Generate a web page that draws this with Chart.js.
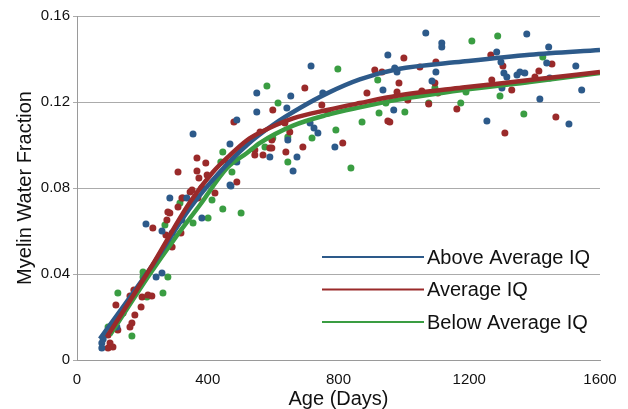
<!DOCTYPE html>
<html lang="en">
<head>
<meta charset="UTF-8">
<title>Myelin Water Fraction vs Age</title>
<script src="https://cdn.jsdelivr.net/npm/chart.js"></script>
<style>
  html, body { margin: 0; padding: 0; background: #fff; }
  #wrap { width: 628px; height: 409px; }
</style>
</head>
<body>
<div id="wrap"><canvas id="grafico" width="628" height="409"></canvas></div>
<script>
// groups
const groupLabels = ['Above Average IQ', 'Average IQ', 'Below Average IQ'];

// scatter data (age in days, myelin water fraction)
const aboveAge = [284, 211, 260, 291, 321, 242, 260, 147, 131, 80, 76, 76, 122, 336, 382, 468, 550, 550, 355, 489,
  468, 489, 471, 590, 716, 654, 642, 752, 713, 725, 737, 789, 661, 673, 936, 951, 1067, 1116, 1116, 972,
  979, 1098, 1086, 969, 1254, 1284, 1297, 1306, 1315, 1346, 1355, 1370, 1300, 1376, 1443, 1437, 1446, 1416, 1526, 1544,
  1505, 645];
const aboveMwf = [0.0753, 0.0633, 0.0600, 0.0591, 0.0651, 0.0386, 0.0405, 0.0242, 0.0209, 0.0098, 0.0079, 0.0056, 0.0153, 0.0753, 0.0660, 0.0814, 0.1242, 0.1153, 0.1051, 0.1116,
  0.1005, 0.0921, 0.0809, 0.0944, 0.1367, 0.1228, 0.1172, 0.1242, 0.1102, 0.1079, 0.1056, 0.0991, 0.0879, 0.0944, 0.1256, 0.1419, 0.1521, 0.1474, 0.1456, 0.1358,
  0.1340, 0.1340, 0.1298, 0.1163, 0.1112, 0.1433, 0.1386, 0.1335, 0.1316, 0.1326, 0.1340, 0.1335, 0.1265, 0.1516, 0.1456, 0.1381, 0.1312, 0.1214, 0.1367, 0.1256,
  0.1098, 0.1023];

const averageAge = [321, 284, 275, 232, 272, 291, 174, 162, 199, 217, 229, 119, 196, 141, 177, 168, 162, 125, 95, 101,
  110, 95, 309, 346, 422, 489, 318, 480, 367, 394, 309, 367, 373, 398, 352, 382, 324, 370, 462, 544,
  569, 590, 599, 560, 544, 278, 697, 749, 768, 636, 651, 596, 596, 639, 691, 813, 887, 911, 951, 1000,
  1049, 1098, 985, 979, 1055, 1012, 1095, 1104, 1076, 957, 1162, 1266, 1303, 1269, 1330, 1401, 1413, 1453, 1309, 1465,
  933];
const averageMwf = [0.0753, 0.0684, 0.0651, 0.0614, 0.0581, 0.0526, 0.0326, 0.0298, 0.0293, 0.0302, 0.0298, 0.0256, 0.0247, 0.0219, 0.0209, 0.0172, 0.0153, 0.0140, 0.0116, 0.0079,
  0.0060, 0.0056, 0.0712, 0.0781, 0.0777, 0.0828, 0.0591, 0.1107, 0.0940, 0.0916, 0.0874, 0.0879, 0.0847, 0.0860, 0.0791, 0.0800, 0.0753, 0.0753, 0.0916, 0.0977,
  0.0953, 0.0986, 0.1163, 0.1060, 0.0953, 0.0688, 0.1265, 0.1186, 0.1149, 0.1102, 0.1060, 0.1023, 0.0986, 0.0967, 0.0991, 0.1009, 0.1242, 0.1349, 0.1112, 0.1405,
  0.1363, 0.1386, 0.1288, 0.1247, 0.1251, 0.1209, 0.1288, 0.1242, 0.1191, 0.1107, 0.1167, 0.1419, 0.1367, 0.1302, 0.1256, 0.1316, 0.1344, 0.1377, 0.1056, 0.1130,
  0.1340];

const belowAge = [315, 269, 202, 202, 278, 125, 263, 95, 168, 214, 413, 355, 401, 446, 502, 581, 615, 446, 440, 474,
  599, 798, 645, 719, 792, 872, 924, 838, 645, 575, 920, 1208, 1287, 1425, 1190, 1174, 1294, 1367, 1003, 1076,
  945, 1095];
const belowMwf = [0.0730, 0.0628, 0.0409, 0.0386, 0.0386, 0.0312, 0.0312, 0.0153, 0.0112, 0.0293, 0.0744, 0.0637, 0.0660, 0.0702, 0.0684, 0.1274, 0.1195, 0.0967, 0.0921, 0.0874,
  0.1033, 0.1353, 0.1037, 0.1033, 0.1070, 0.1107, 0.1149, 0.0893, 0.0921, 0.0991, 0.1302, 0.1484, 0.1507, 0.1409, 0.1247, 0.1195, 0.1228, 0.1144, 0.1153, 0.1195,
  0.1195, 0.1265];

// fitted curves
const aboveFitAge = [70, 223, 346, 437, 520, 599, 682, 765, 865, 979, 1180, 1385, 1600];
const aboveFitMwf = [0.0098, 0.0423, 0.0707, 0.0874, 0.1000, 0.1093, 0.1172, 0.1240, 0.1305, 0.1352, 0.1388, 0.1420, 0.1442];
const averageFitAge = [95, 223, 346, 416, 468, 520, 560, 661, 765, 865, 979, 1180, 1385, 1600];
const averageFitMwf = [0.0116, 0.0423, 0.0735, 0.0874, 0.0953, 0.1022, 0.1058, 0.1124, 0.1163, 0.1195, 0.1229, 0.1267, 0.1302, 0.1340];
const belowFitAge = [101, 223, 300, 376, 459, 520, 560, 661, 765, 865, 979, 1180, 1385, 1600];
const belowFitMwf = [0.0116, 0.0400, 0.0567, 0.0721, 0.0893, 0.0963, 0.1010, 0.1090, 0.1140, 0.1175, 0.1210, 0.1256, 0.1293, 0.1335];

// axis ticks
const xTicks = [0, 400, 800, 1200, 1600];
const yTicks = ['0', '0.04', '0.08', '0.12', '0.16'];

const corAzul = '#2d5a8a';
const corVermelha = '#9a2a2a';
const corVerde = '#3a9d42';
const fonte = '"Liberation Sans", Arial, sans-serif';

function pares(xs, ys) {
  return xs.map((x, i) => ({ x: x, y: ys[i] }));
}

function pontos(label, xs, ys, cor) {
  return {
    label: label,
    data: pares(xs, ys),
    showLine: false,
    pointRadius: 3.5,
    pointBorderWidth: 0,
    pointBackgroundColor: cor,
    pointHoverRadius: 3.5,
    order: 5
  };
}

function curva(label, xs, ys, cor, ordem) {
  return {
    label: label,
    data: pares(xs, ys),
    showLine: true,
    borderColor: cor,
    borderWidth: 4.5,
    pointRadius: 0,
    cubicInterpolationMode: 'monotone',
    fill: false,
    order: ordem
  };
}

// legend drawn inside the plot area
const legendaInterna = {
  id: 'legendaInterna',
  afterDraw(chart) {
    const ctx = chart.ctx;
    const cores = [corAzul, corVermelha, corVerde];
    ctx.save();
    ctx.font = '20px ' + fonte;
    ctx.textBaseline = 'middle';
    groupLabels.forEach((txt, i) => {
      const y = 257 + i * 32.5;
      ctx.strokeStyle = cores[i];
      ctx.lineWidth = 2;
      ctx.beginPath();
      ctx.moveTo(322, y);
      ctx.lineTo(424, y);
      ctx.stroke();
      ctx.fillStyle = '#111';
      ctx.fillText(txt, 427, y + 1);
    });
    ctx.restore();
  }
};

const ctx = document.getElementById('grafico').getContext('2d');
new Chart(ctx, {
  type: 'scatter',
  data: {
    datasets: [
      curva(groupLabels[1] + ' fit', averageFitAge, averageFitMwf, corVermelha, 0),
      curva(groupLabels[0] + ' fit', aboveFitAge, aboveFitMwf, corAzul, 1),
      curva(groupLabels[2] + ' fit', belowFitAge, belowFitMwf, corVerde, 2),
      pontos(groupLabels[0], aboveAge, aboveMwf, corAzul),
      pontos(groupLabels[1], averageAge, averageMwf, corVermelha),
      pontos(groupLabels[2], belowAge, belowMwf, corVerde)
    ]
  },
  options: {
    responsive: false,
    animation: false,
    devicePixelRatio: 1,
    layout: { padding: { left: 0, right: 28, top: 16, bottom: 0 } },
    plugins: {
      legend: { display: false },
      tooltip: { enabled: false }
    },
    scales: {
      x: {
        type: 'linear',
        min: 0,
        max: 1600,
        afterFit: s => { s.height = 49; },
        afterBuildTicks: s => { s.ticks = xTicks.map(v => ({ value: v })); },
        grid: { display: false },
        border: { color: '#9a9a9a', width: 1 },
        ticks: {
          padding: 3,
          color: '#111',
          font: { family: fonte, size: 15 },
          maxRotation: 0,
          callback: v => String(v)
        },
        title: {
          display: true,
          text: 'Age (Days)',
          color: '#111',
          font: { family: fonte, size: 20, lineHeight: 1 },
          padding: 0
        }
      },
      y: {
        type: 'linear',
        min: 0,
        max: 0.16,
        afterFit: s => { s.width = 77; },
        afterBuildTicks: s => { s.ticks = yTicks.map(t => ({ value: parseFloat(t) })); },
        grid: { color: '#ababab', lineWidth: 1, tickLength: 4, drawTicks: true },
        border: { color: '#9a9a9a', width: 1 },
        ticks: {
          padding: 3,
          color: '#111',
          font: { family: fonte, size: 15 },
          callback: (v, i) => yTicks[i]
        },
        title: {
          display: true,
          text: 'Myelin Water Fraction',
          color: '#111',
          font: { family: fonte, size: 20, lineHeight: 1 },
          padding: { top: 15, bottom: 0 }
        }
      }
    }
  },
  plugins: [legendaInterna]
});
</script>
</body>
</html>
